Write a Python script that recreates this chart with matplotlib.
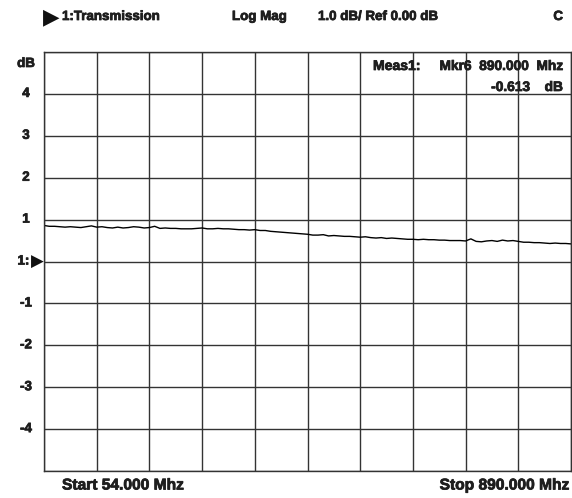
import matplotlib
matplotlib.use("Agg")
import matplotlib.pyplot as plt
import matplotlib.transforms as mtrans
import matplotlib.patheffects as pe
from matplotlib import font_manager
import numpy as np

# ---- data ----
start_mhz = 54.0
stop_mhz = 890.0
trace_db = [
    0.86, 0.84, 0.84, 0.83, 0.82, 0.83, 0.82, 0.81, 0.83, 0.85, 0.82,
    0.83, 0.81, 0.80, 0.82, 0.80, 0.81, 0.83, 0.82, 0.80, 0.81,
    0.84, 0.79, 0.80, 0.79, 0.79, 0.78, 0.78, 0.78, 0.79, 0.80,
    0.78, 0.78, 0.79, 0.78, 0.78, 0.77, 0.76, 0.76, 0.75, 0.76,
    0.74, 0.74, 0.72, 0.71, 0.70, 0.69, 0.68, 0.67, 0.66, 0.65,
    0.63, 0.63, 0.64, 0.61, 0.62, 0.61, 0.60, 0.60, 0.59, 0.58,
    0.59, 0.57, 0.56, 0.57, 0.55, 0.56, 0.55, 0.54, 0.53, 0.53,
    0.52, 0.53, 0.52, 0.52, 0.51, 0.51, 0.50, 0.50, 0.50, 0.49,
    0.54, 0.48, 0.47, 0.49, 0.50, 0.48, 0.51, 0.49, 0.50, 0.48,
    0.46, 0.46, 0.45, 0.45, 0.44, 0.43, 0.44, 0.43, 0.43, 0.42,
]
freq_mhz = np.linspace(start_mhz, stop_mhz, len(trace_db))
y_labels = {4: "4", 3: "3", 2: "2", 1: "1", 0: "1:", -1: "-1", -2: "-2", -3: "-3", -4: "-4"}

names = {f.name for f in font_manager.fontManager.ttflist}

W, H = 572, 498
fig = plt.figure(figsize=(W / 100, H / 100), dpi=100)
fig.patch.set_facecolor("white")

L, R, T, B = 44, 571, 52, 471
ax = fig.add_axes([L / W, 1 - B / H, (R - L) / W, (B - T) / H])
ax.set_xlim(start_mhz, stop_mhz)
ax.set_ylim(-5, 5)
ax.set_xticks(np.linspace(start_mhz, stop_mhz, 11))
ax.set_yticks(np.arange(-5, 6, 1))
ax.grid(True, color="#333333", linewidth=1.0)
ax.tick_params(length=0, labelleft=False, labelbottom=False)
for s in ax.spines.values():
    s.set_color("#333333")
    s.set_linewidth(1.0)

ax.plot(freq_mhz, trace_db, color="black", linewidth=1.0)

txt_color = "#1e1e1e"
if "Liberation Sans Narrow" in names:
    fam = ["Liberation Sans Narrow", "DejaVu Sans"]
    fs = 11
    fs_foot = 13.2
else:
    fam = ["Liberation Sans", "DejaVu Sans"]
    fs = 9.6
    fs_foot = 11.2
effects = [pe.withStroke(linewidth=0.55, foreground=txt_color)]
kw = dict(fontsize=fs, fontweight="bold", family=fam, color=txt_color,
          path_effects=effects)
tri_kw = dict(fontsize=12, family=["DejaVu Sans"], color="#111111")

def ptext(x, y, s, ha="left", va="center", size=None):
    k = dict(kw)
    if size is not None:
        k["fontsize"] = size
    fig.text(x / W, 1 - y / H, s, ha=ha, va=va, **k)

# header
fig.text(43 / W, 1 - 17 / H, "\u25B6", ha="left", va="center",
         fontsize=15.5, family=["DejaVu Sans"], color="#111111")
ptext(62, 17, "1:Transmission")
ptext(232, 17, "Log Mag")
ptext(318, 17, "1.0 dB/ Ref 0.00 dB")
ptext(563, 17, "C", ha="right")

# marker readout
ptext(373, 66, "Meas1:", size=fs * 1.05)
ptext(563, 66, "Mkr6  890.000  Mhz", ha="right", size=fs * 1.03)
ptext(530, 87, "-0.613", ha="right", size=fs * 1.03)
ptext(563, 87, "dB", ha="right", size=fs * 1.03)

# y labels
ptext(26, 64, "dB", ha="center")
trans = mtrans.blended_transform_factory(fig.transFigure, ax.transData)
for v, lab in y_labels.items():
    if v == 0:
        fig.text(29.5 / W, v, lab, transform=trans, ha="right", va="center", **kw)
        fig.text(31 / W, v, "\u25B6", transform=trans, ha="left", va="center", **tri_kw)
    else:
        fig.text(26 / W, v, lab, transform=trans, ha="center", va="center", **kw)

# footer
ptext(62, 485, "Start 54.000 Mhz", size=fs_foot)
ptext(569, 485, "Stop 890.000 Mhz", ha="right", size=fs_foot)

fig.savefig("out.png", dpi=100, facecolor="white")
